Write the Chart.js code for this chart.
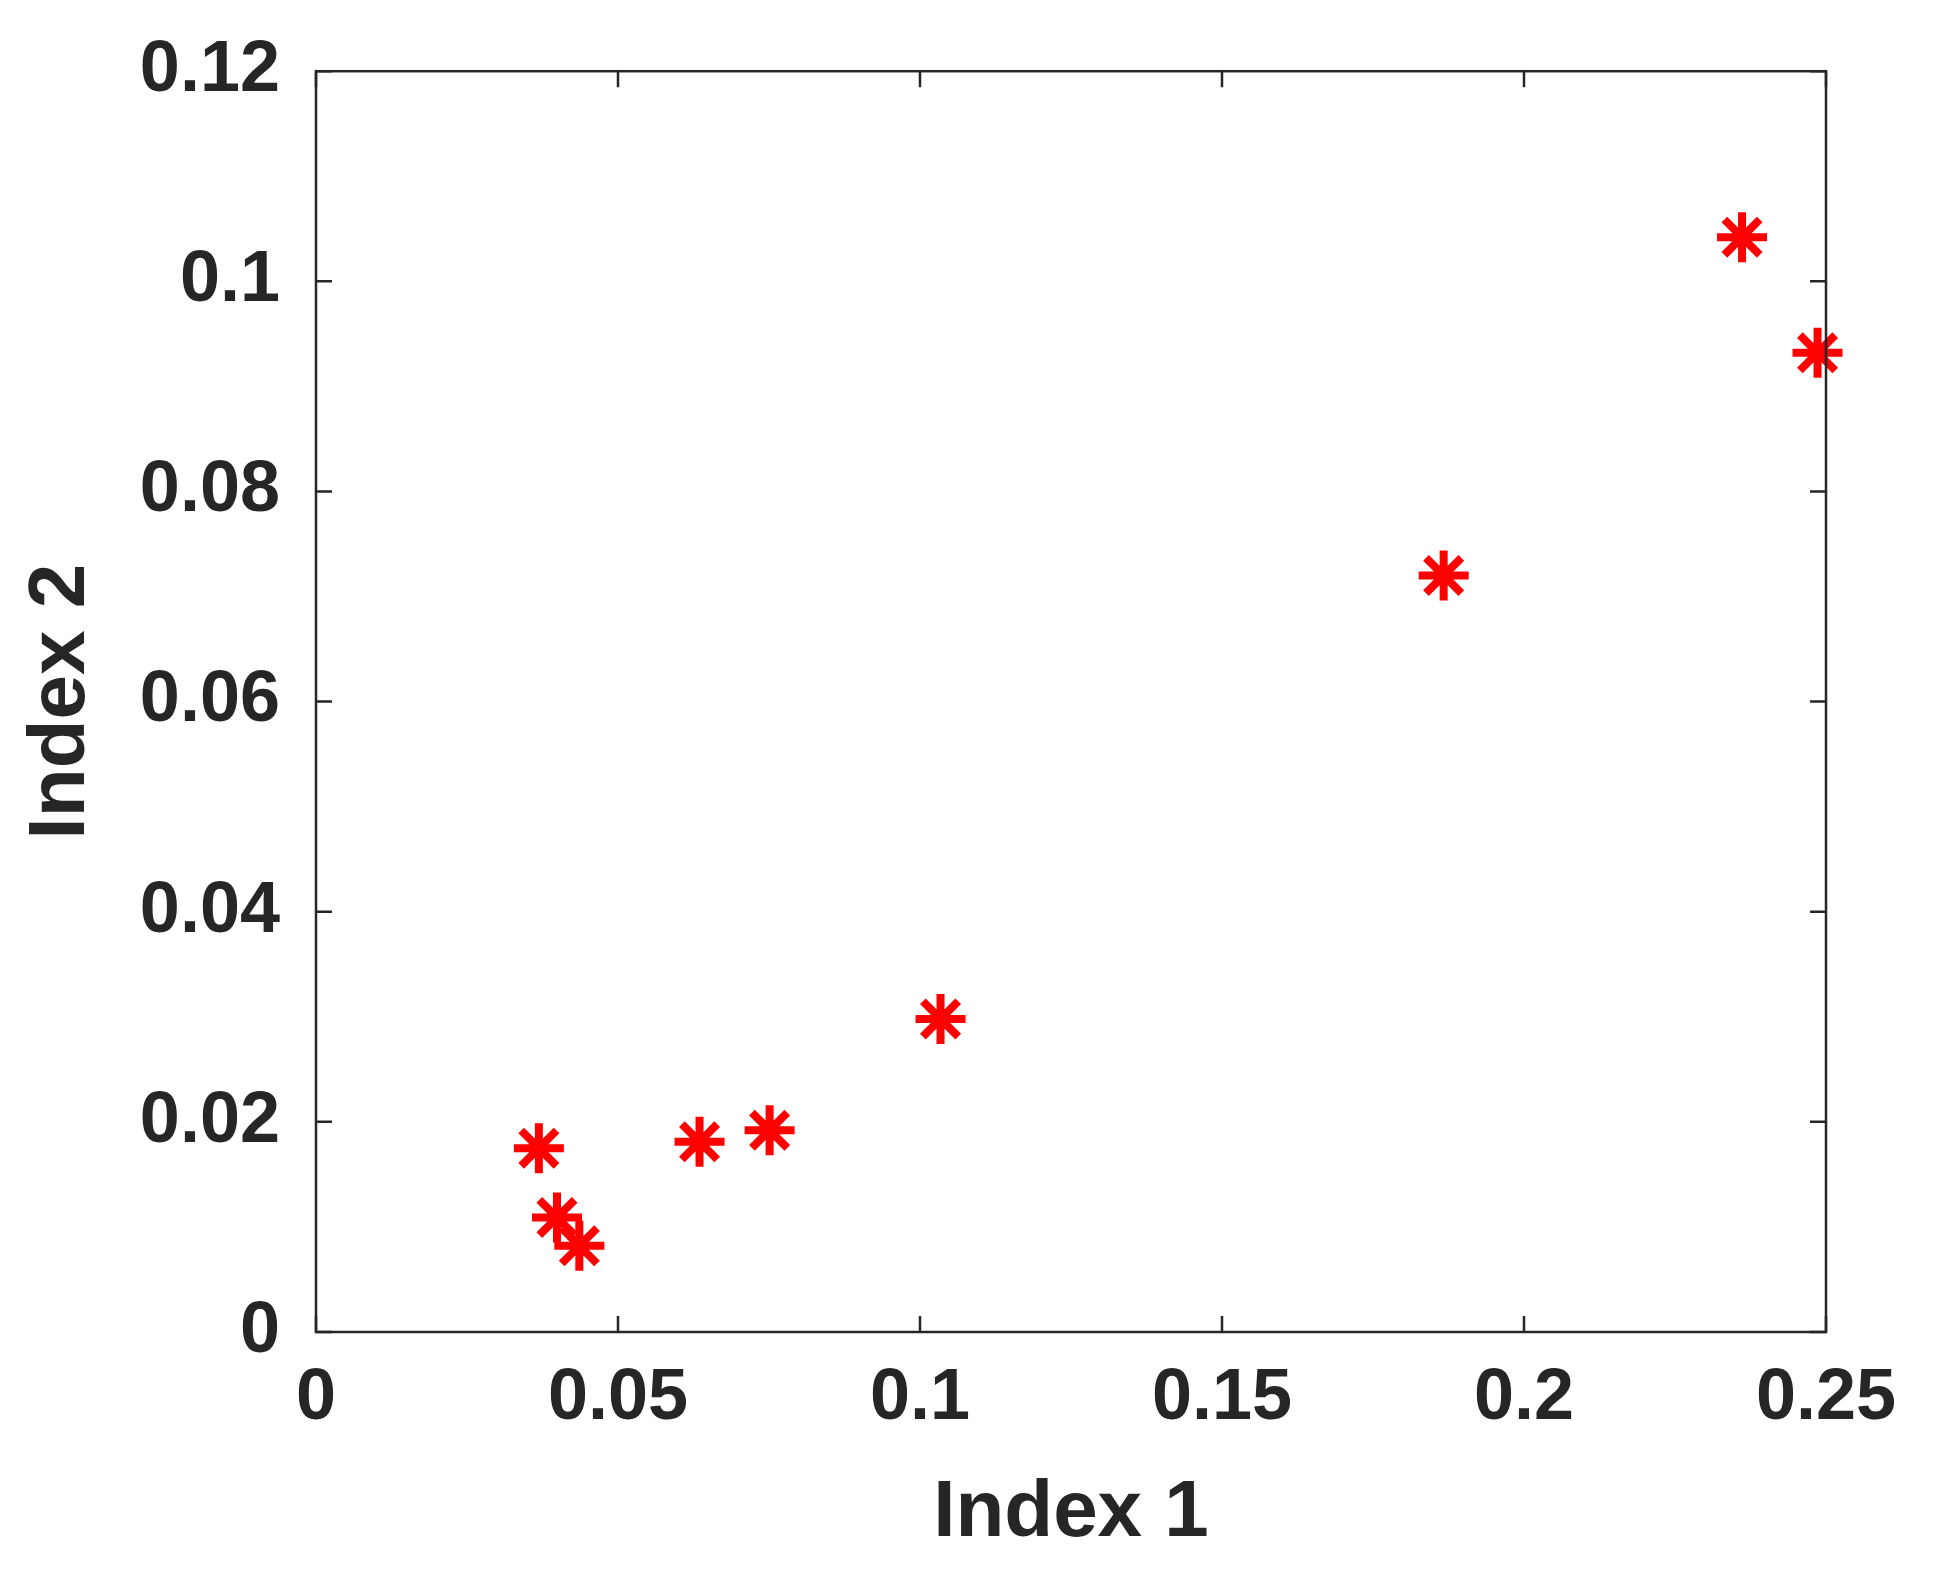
<!DOCTYPE html>
<html lang="en">
<head>
    <meta charset="UTF-8">
    <title>Index 1 vs Index 2</title>
    <script src="https://cdn.jsdelivr.net/npm/chart.js@4.4.0/dist/chart.umd.min.js"></script>
    <style>body{margin:0;background:#fff;}</style>
</head>
<body>

<canvas id="scatter" width="1944" height="1576"></canvas>

<script>

    const index1 = [0.0369, 0.0399, 0.0436, 0.0635, 0.0751, 0.1034, 0.1867, 0.2361, 0.2486];
    const index2 = [0.0175, 0.0109, 0.0082, 0.0181, 0.0192, 0.0298, 0.0720, 0.1042, 0.0932];
    const xTicks = [0, 0.05, 0.1, 0.15, 0.2, 0.25];
    const yTicks = [0, 0.02, 0.04, 0.06, 0.08, 0.1, 0.12];

    const ink = '#262626';
    const tickFont = {family: 'Arial, "Liberation Sans", sans-serif', weight: 'bold', size: 72};
    const titleFont = {family: 'Arial, "Liberation Sans", sans-serif', weight: 'bold', size: 80};
    const fmt = v => String(+v.toFixed(3));

    // box around the plot with inward ticks on all four sides
    const boxPlugin = {
        id: 'box',
        afterDraw(chart) {
            const {ctx, chartArea: a, scales} = chart;
            const len = 16;
            ctx.save();
            ctx.strokeStyle = ink;
            ctx.lineWidth = 2.5;
            ctx.strokeRect(a.left, a.top, a.right - a.left, a.bottom - a.top);
            ctx.beginPath();
            xTicks.forEach(v => {
                const px = scales.x.getPixelForValue(v);
                ctx.moveTo(px, a.bottom); ctx.lineTo(px, a.bottom - len);
                ctx.moveTo(px, a.top); ctx.lineTo(px, a.top + len);
            });
            yTicks.forEach(v => {
                const py = scales.y.getPixelForValue(v);
                ctx.moveTo(a.left, py); ctx.lineTo(a.left + len, py);
                ctx.moveTo(a.right, py); ctx.lineTo(a.right - len, py);
            });
            ctx.stroke();
            ctx.restore();
        }
    };

    new Chart('scatter', {
        type: 'scatter',
        data: {
            datasets: [{
                data: index1.map((x, i) => ({x: x, y: index2[i]})),
                pointStyle: 'star',
                radius: 25,
                hoverRadius: 25,
                borderColor: '#ff0000',
                backgroundColor: '#ff0000',
                borderWidth: 8,
                clip: false
            }]
        },
        options: {
            responsive: false,
            animation: false,
            layout: {padding: {top: 65, right: 118, left: 10, bottom: 10}},
            plugins: {legend: {display: false}, tooltip: {enabled: false}},
            scales: {
                x: {
                    type: 'linear', min: 0, max: 0.25,
                    afterBuildTicks: s => { s.ticks = xTicks.map(v => ({value: v})); },
                    afterFit: s => { s.height = 1576 - 1332 - 10; },
                    grid: {display: false},
                    border: {display: false},
                    ticks: {color: ink, font: tickFont, padding: 16, maxRotation: 0, callback: fmt},
                    title: {display: true, text: 'Index 1', color: ink, font: titleFont, padding: {top: 0}}
                },
                y: {
                    type: 'linear', min: 0, max: 0.12,
                    afterBuildTicks: s => { s.ticks = yTicks.map(v => ({value: v})); },
                    afterFit: s => { s.width = 316 - 10; },
                    grid: {display: false},
                    border: {display: false},
                    ticks: {color: ink, font: tickFont, padding: 28, callback: fmt},
                    title: {display: true, text: 'Index 2', color: ink, font: titleFont, padding: {bottom: 14}}
                }
            }
        },
        plugins: [boxPlugin]
    });

</script>

</body>
</html>
